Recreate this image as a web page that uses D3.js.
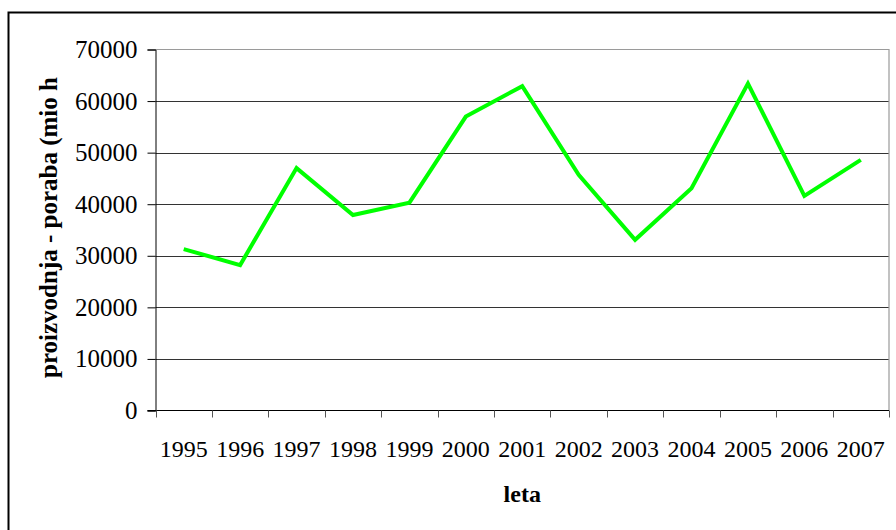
<!DOCTYPE html>
<html>
<head>
<meta charset="utf-8">
<script src="https://cdn.jsdelivr.net/npm/d3@7"></script>
<style>
body { margin: 0; background: #fff; }
svg { display: block; }
text { font-family: "Liberation Serif", "Times New Roman", serif; fill: #000; }
</style>
</head>
<body>
<div id="chartDiv"></div>
<script>
var years = ["1995", "1996", "1997", "1998", "1999", "2000", "2001", "2002", "2003", "2004", "2005", "2006", "2007"];
var values = [31300, 28200, 47000, 37900, 40300, 57000, 62900, 45700, 33100, 43100, 63400, 41600, 48600];
var yTicks = [0, 10000, 20000, 30000, 40000, 50000, 60000, 70000];

var width = 896, height = 530;
var plot = { left: 155.5, right: 889, top: 49.5, bottom: 410.5 };

var svg = d3.select("#chartDiv").append("svg")
    .attr("width", width)
    .attr("height", height);

// outer chart border (right and bottom edges fall outside the picture)
svg.append("rect")
    .attr("x", 8.5).attr("y", 12.5)
    .attr("width", 900).attr("height", 530)
    .attr("fill", "none")
    .attr("stroke", "#000")
    .attr("stroke-width", 2);

var x = d3.scaleBand()
    .domain(years)
    .range([plot.left, plot.right]);

var y = d3.scaleLinear()
    .domain([0, 70000])
    .range([plot.bottom, plot.top]);

// gridlines
svg.append("g")
    .selectAll("line")
    .data(yTicks.slice(1, -1))
    .enter().append("line")
    .attr("x1", plot.left).attr("x2", plot.right)
    .attr("y1", function (d) { return Math.round(y(d)) + 0.5; })
    .attr("y2", function (d) { return Math.round(y(d)) + 0.5; })
    .attr("stroke", "#333")
    .attr("stroke-width", 1.2);

// plot area border top/right
svg.append("path")
    .attr("d", "M" + plot.left + "," + plot.top + "H" + plot.right + "V" + plot.bottom)
    .attr("fill", "none")
    .attr("stroke", "#9a9a9a")
    .attr("stroke-width", 1.2);

// y axis
var yAxis = svg.append("g")
    .attr("transform", "translate(" + plot.left + ",0)")
    .call(d3.axisLeft(y).tickValues(yTicks).tickSize(8).tickPadding(10).tickFormat(d3.format("d")));
yAxis.attr("font-family", null).attr("font-size", null);
yAxis.select(".domain").attr("stroke", "#000");
yAxis.selectAll(".tick line").attr("stroke", "#000");
yAxis.selectAll("text")
    .attr("fill", "#000")
    .style("font-size", "25px");

// x axis: ticks at category boundaries
var xAxis = svg.append("g")
    .attr("transform", "translate(0," + plot.bottom + ")");
xAxis.append("line")
    .attr("x1", plot.left - 8).attr("x2", plot.right)
    .attr("stroke", "#000");
xAxis.selectAll(".bound")
    .data(years.concat(["end"]))
    .enter().append("line")
    .attr("class", "bound")
    .attr("x1", function (d, i) { return Math.round(plot.left + i * x.bandwidth()) + 0.5; })
    .attr("x2", function (d, i) { return Math.round(plot.left + i * x.bandwidth()) + 0.5; })
    .attr("y1", 0).attr("y2", 7)
    .attr("stroke", "#555");
xAxis.selectAll(".lbl")
    .data(years)
    .enter().append("text")
    .attr("class", "lbl")
    .attr("x", function (d) { return x(d) + x.bandwidth() / 2; })
    .attr("y", 46)
    .attr("text-anchor", "middle")
    .style("font-size", "24px")
    .text(function (d) { return d; });

// axis titles
svg.append("text")
    .attr("x", (plot.left + plot.right) / 2)
    .attr("y", 502)
    .attr("text-anchor", "middle")
    .style("font-size", "24px")
    .style("font-weight", "bold")
    .text("leta");

svg.append("text")
    .attr("transform", "translate(57,378) rotate(-90)")
    .attr("text-anchor", "start")
    .style("font-size", "25px")
    .style("font-weight", "bold")
    .text("proizvodnja - poraba (mio h");

// series line
var line = d3.line()
    .x(function (d, i) { return x(years[i]) + x.bandwidth() / 2; })
    .y(function (d) { return y(d); });

svg.append("path")
    .datum(values)
    .attr("d", line)
    .attr("fill", "none")
    .attr("stroke", "#00ff00")
    .attr("stroke-width", 4)
    .attr("stroke-linejoin", "miter");
</script>
</body>
</html>
